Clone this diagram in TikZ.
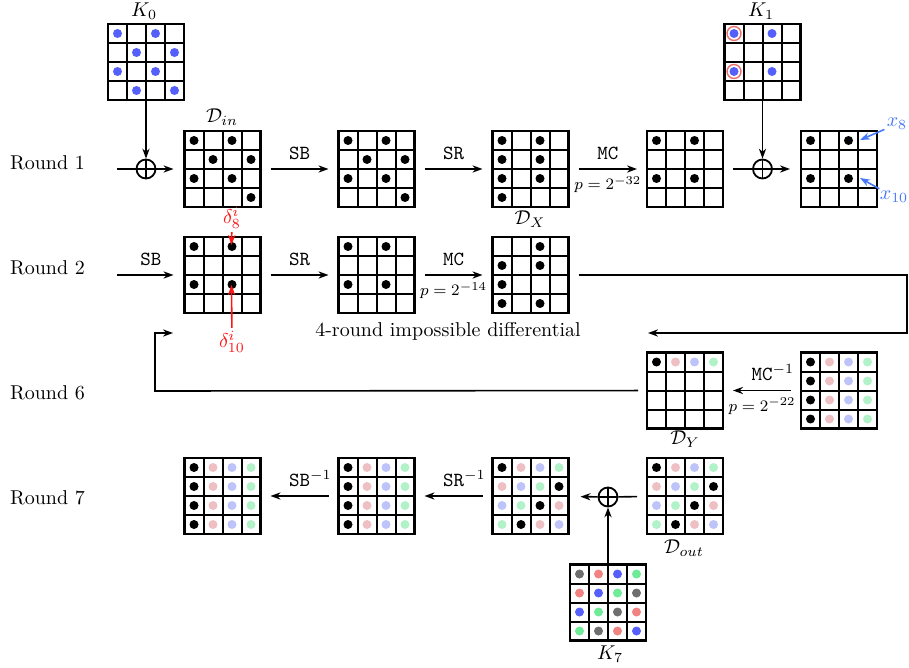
\documentclass[tikz,border=0pt]{standalone}
\usepackage{amsmath}
\usepackage{tikz}
\usetikzlibrary{calc}
\usetikzlibrary{arrows.meta}

\definecolor{keyblue}{RGB}{85,95,250}
\definecolor{ringred}{RGB}{235,110,110}
\definecolor{palered}{RGB}{238,192,195}
\definecolor{paleblue}{RGB}{190,196,250}
\definecolor{palegreen}{RGB}{178,242,200}
\definecolor{kred}{RGB}{240,130,130}
\definecolor{kgray}{RGB}{110,110,110}
\definecolor{kgreen}{RGB}{110,235,150}
\definecolor{xblue}{RGB}{70,120,250}
\definecolor{dred}{RGB}{255,20,20}

\tikzset{
  state/.style={draw, line width=1.1pt, minimum size=38pt, inner sep=0pt, outer sep=0pt},
  xor/.style={circle, draw, line width=0.9pt, minimum size=9.5pt, inner sep=0pt,
    path picture={\draw[line width=0.9pt] (path picture bounding box.north) -- (path picture bounding box.south)
      (path picture bounding box.west) -- (path picture bounding box.east);}},
  arr/.style={-{Stealth[length=5pt,width=3.6pt]}, line width=0.8pt},
  conn/.style={line width=0.8pt},
  gap/.style={shorten <=5pt, shorten >=5pt},
  prob/.style={below=0pt, font=\footnotesize},
}

% 4x4 state at (x,y)
\newcommand{\stategrid}[3]{%
  \node[state] (#1) at (#2,#3) {};
  \foreach \k in {1,2,3} {
    \draw[line width=1pt] ($(#1.north west)+(\k*9.5pt,0)$) -- ++(0,-38pt);
    \draw[line width=1pt] ($(#1.north west)+(0,-\k*9.5pt)$) -- ++(38pt,0);
  }
}
% dots in cells row/col
\newcommand{\celldots}[3]{%
  \foreach \ri/\ci in {#3}
    \fill[#2] ($(#1.north west)+(\ci*9.5pt+4.75pt,-\ri*9.5pt-4.75pt)$) circle (2.25pt);
}

\begin{document}
\begin{tikzpicture}[x=0.5pt,y=-0.5pt]
    \useasboundingbox (0,0) rectangle (909,668);

    \node[anchor=west] (rd1) at (3,163) {Round 1};
    \node[anchor=west] (rd2) at (3,268) {Round 2};
    \node[anchor=west] (rd6) at (3,393) {Round 6};
    \node[anchor=west] (rd7) at (3,498) {Round 7};

    % round 1
    \stategrid{k0}{146}{62}
    \celldots{k0}{keyblue}{0/0,0/2,1/1,1/3,2/0,2/2,3/1,3/3}
    \node (lk0) at (144,11) {$K_0$};
    \stategrid{din}{222.5}{169}
    \celldots{din}{black}{0/0,0/2,1/1,1/3,2/0,2/2,3/3}
    \node (ldin) at (222,117) {$\mathcal{D}_{in}$};
    \stategrid{sb1}{376.5}{169}
    \celldots{sb1}{black}{0/0,0/2,1/1,1/3,2/0,2/2,3/3}
    \stategrid{dx}{530.5}{169}
    \celldots{dx}{black}{0/0,0/2,1/0,1/2,2/0,2/2,3/0}
    \node (ldx) at (530,219) {$\mathcal{D}_X$};
    \stategrid{mc1}{685}{169}
    \celldots{mc1}{black}{0/0,0/2,2/0,2/2}
    \stategrid{k1}{762.5}{62}
    \celldots{k1}{keyblue}{0/0,0/2,2/0,2/2}
    \draw[ringred, line width=0.7pt] ($(k1.north west)+(4.75pt,-4.75pt)$) circle (3.5pt);
    \draw[ringred, line width=0.7pt] ($(k1.north west)+(4.75pt,-23.75pt)$) circle (3.5pt);
    \node (lk1) at (761,11) {$K_1$};
    \stategrid{ak1}{839}{169}
    \celldots{ak1}{black}{0/0,0/2,2/0,2/2}

    \node[xor] (x0) at (146,169) {};
    \coordinate (in1) at (117,169);
    \draw[conn] (in1) -- (x0);
    \draw[arr, shorten >=5.5pt] (x0) -- (din);
    \draw[arr] (k0) -- (x0);
    \draw[arr, gap] (din) -- node[above=1pt] {\texttt{SB}} (sb1);
    \draw[arr, gap] (sb1) -- node[above=1pt] {\texttt{SR}} (dx);
    \draw[arr, gap] (dx) -- node[above=1pt] {\texttt{MC}} node[prob] {$p=2^{-32}$} (mc1);
    \node[xor] (x1) at (762.5,169) {};
    \draw[conn, shorten <=5pt] (mc1) -- (x1);
    \draw[arr, shorten >=5.5pt] (x1) -- (ak1);
    \draw[arr] (k1) -- (x1);

    \node[text=xblue, inner sep=1pt] (lx8) at (897,124) {$x_8$};
    \coordinate (px8) at (860,140);
    \draw[arr, xblue] (lx8) -- (px8);
    \node[text=xblue, inner sep=1pt] (lx10) at (894,197) {$x_{10}$};
    \coordinate (px10) at (860,178);
    \draw[arr, xblue] (lx10) -- (px10);

    % round 2
    \stategrid{sb2}{222.5}{275}
    \celldots{sb2}{black}{0/0,0/2,2/0,2/2}
    \stategrid{sr2}{376.5}{275}
    \celldots{sr2}{black}{0/0,0/2,2/0,2/2}
    \stategrid{mc2}{530.5}{275}
    \celldots{mc2}{black}{0/2,1/0,1/2,2/0,3/0,3/2}

    \coordinate (in2) at (117,275);
    \draw[arr, shorten >=5.5pt] (in2) -- node[above=1pt] {\texttt{SB}} (sb2);
    \draw[arr, gap] (sb2) -- node[above=1pt] {\texttt{SR}} (sr2);
    \draw[arr, gap] (sr2) -- node[above=1pt] {\texttt{MC}} node[prob] {$p=2^{-14}$} (mc2);

    \node[text=dred, inner sep=1.5pt] (d8) at (232,218) {$\delta_8^i$};
    \coordinate (pd8) at (231.5,245);
    \draw[arr, dred] (d8) -- (pd8);
    \node[text=dred, inner sep=1.5pt] (d10) at (232,342) {$\delta_{10}^i$};
    \coordinate (pd10) at (231.5,285);
    \draw[arr, dred] (d10) -- (pd10);

    \node (imp) at (448,331) {4-round impossible differential};
    \coordinate (ta) at (907,275);
    \coordinate (tb) at (648,333);
    \draw[arr, shorten <=5pt] (mc2) -- (ta) |- (tb);

    % round 6
    \stategrid{dy}{685}{390.5}
    \celldots{dy}{black}{0/0}
    \celldots{dy}{palered}{0/1}
    \celldots{dy}{paleblue}{0/2}
    \celldots{dy}{palegreen}{0/3}
    \node (ldy) at (685,439) {$\mathcal{D}_Y$};
    \stategrid{r6b}{839}{390.5}
    \celldots{r6b}{black}{0/0,1/0,2/0,3/0}
    \celldots{r6b}{palered}{0/1,1/1,2/1,3/1}
    \celldots{r6b}{paleblue}{0/2,1/2,2/2,3/2}
    \celldots{r6b}{palegreen}{0/3,1/3,2/3,3/3}
    \draw[arr, gap] (r6b) -- node[above=1pt] {\texttt{MC}\rlap{$^{-1}$}} node[prob] {$p=2^{-22}$} (dy);
    \coordinate (tc) at (155,391);
    \coordinate (td) at (173,333);
    \draw[arr, shorten <=4.5pt] (dy) -- (tc) |- (td);

    % round 7
    \stategrid{r7a}{222.5}{496}
    \celldots{r7a}{black}{0/0,1/0,2/0,3/0}
    \celldots{r7a}{palered}{0/1,1/1,2/1,3/1}
    \celldots{r7a}{paleblue}{0/2,1/2,2/2,3/2}
    \celldots{r7a}{palegreen}{0/3,1/3,2/3,3/3}
    \stategrid{r7b}{376.5}{496}
    \celldots{r7b}{black}{0/0,1/0,2/0,3/0}
    \celldots{r7b}{palered}{0/1,1/1,2/1,3/1}
    \celldots{r7b}{paleblue}{0/2,1/2,2/2,3/2}
    \celldots{r7b}{palegreen}{0/3,1/3,2/3,3/3}
    \stategrid{r7c}{530.5}{496}
    \celldots{r7c}{black}{0/0,1/3,2/2,3/1}
    \celldots{r7c}{palered}{0/1,1/0,2/3,3/2}
    \celldots{r7c}{paleblue}{0/2,1/1,2/0,3/3}
    \celldots{r7c}{palegreen}{0/3,1/2,2/1,3/0}
    \stategrid{dout}{685}{496}
    \celldots{dout}{black}{0/0,1/3,2/2,3/1}
    \celldots{dout}{palered}{0/1,1/0,2/3,3/2}
    \celldots{dout}{paleblue}{0/2,1/1,2/0,3/3}
    \celldots{dout}{palegreen}{0/3,1/2,2/1,3/0}
    \node (ldout) at (684,548) {$\mathcal{D}_{out}$};
    \stategrid{k7}{608}{602.5}
    \celldots{k7}{kgray}{0/0,1/3,2/2,3/1}
    \celldots{k7}{kred}{0/1,1/0,2/3,3/2}
    \celldots{k7}{keyblue}{0/2,1/1,2/0,3/3}
    \celldots{k7}{kgreen}{0/3,1/2,2/1,3/0}
    \node (lk7) at (610,654) {$K_7$};

    \node[xor] (x7) at (608,497) {};
    \draw[conn, shorten <=5pt] (dout) -- (x7);
    \draw[arr, shorten >=6pt] (x7) -- (r7c);
    \draw[arr] (k7) -- (x7);
    \draw[arr, gap] (r7c) -- node[above=1pt] {\texttt{SR}\rlap{$^{-1}$}} (r7b);
    \draw[arr, gap] (r7b) -- node[above=1pt] {\texttt{SB}\rlap{$^{-1}$}} (r7a);
\end{tikzpicture}
\end{document}
